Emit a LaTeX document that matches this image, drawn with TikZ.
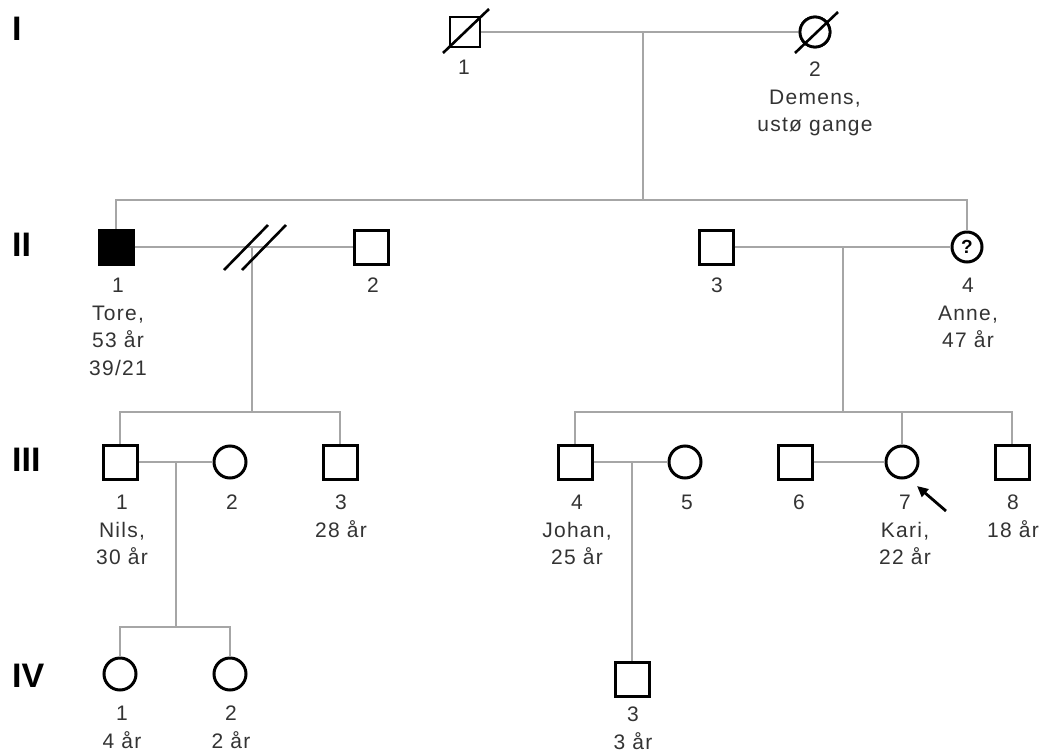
\documentclass[tikz,border=0pt]{standalone}
\usepackage{fontspec}
\setmainfont{Liberation Sans}
\newfontfamily\lblfont[LetterSpace=6]{Liberation Sans}
\usetikzlibrary{arrows.meta}
\begin{document}
\begin{tikzpicture}[x=1pt,y=-1pt,
  male/.style={draw=black, line width=3pt, minimum size=34pt, inner sep=0pt, shape=rectangle, fill=white},
  maleI/.style={male, minimum size=30pt, line width=2.8pt},
  female/.style={draw=black, line width=3pt, minimum size=32pt, inner sep=0pt, shape=circle, fill=white},
  femaleI/.style={female, minimum size=30pt, line width=2.8pt},
  affected/.style={fill=black},
  lbl/.style={font=\lblfont\fontsize{21}{27.5}\selectfont, text=black!80, align=center, anchor=north, inner sep=0pt},
  gen/.style={font=\fontsize{34}{34}\selectfont\bfseries, anchor=west, inner sep=0pt},
  rel/.style={draw=black!35, line width=2pt},
  dead/.style={draw=black, line width=2.6pt},
  proband/.style={draw=black, line width=2.8pt, -{Triangle[length=11pt,width=10pt]}}]
\useasboundingbox (0,0) rectangle (1039,755);

% generation labels
\node[gen] (gI) at (12,29) {I};
\node[gen] (gII) at (12,245) {II};
\node[gen] (gIII) at (12,460) {III};
\node[gen] (gIV) at (12,676) {IV};

% individuals
\node[maleI] (I1) at (465,32) {};
\node[femaleI] (I2) at (815,32) {};

\node[male, affected] (II1) at (116,247) {};
\node[male] (II2) at (371,247) {};
\node[male] (II3) at (716,247) {};
\node[female, minimum size=30pt] (II4) at (967,247) {\fontsize{19}{19}\selectfont\bfseries ?};

\node[male] (III1) at (120,462) {};
\node[female] (III2) at (230,462) {};
\node[male] (III3) at (340,462) {};
\node[male] (III4) at (575,462) {};
\node[female] (III5) at (685,462) {};
\node[male] (III6) at (795,462) {};
\node[female] (III7) at (902,462) {};
\node[male] (III8) at (1012,462) {};

\node[female] (IV1) at (120,674) {};
\node[female] (IV2) at (230,674) {};
\node[male] (IV3) at (632,679) {};

% relationship lines
\coordinate (mI) at (643,32);
\coordinate (sII) at (643,200);
\draw[rel] (I1) -- (I2);
\draw[rel] (mI) -- (sII);
\draw[rel] (II1.north) |- (sII) -| (II4.north);

\coordinate (mII) at (252,247);
\coordinate (sIIIa) at (252,412);
\draw[rel] (II1) -- (II2);
\draw[rel] (mII) -- (sIIIa);
\draw[rel] (III1.north) |- (sIIIa) -| (III3.north);

\coordinate (mIIb) at (843,247);
\coordinate (sIIIb) at (843,412);
\draw[rel] (II3) -- (II4);
\draw[rel] (mIIb) -- (sIIIb);
\draw[rel] (III4.north) |- (sIIIb) -| (III8.north);
\draw[rel] (III7.north) -- (III7.north |- sIIIb);

\coordinate (mIIIa) at (176,462);
\coordinate (sIVa) at (176,627);
\draw[rel] (III1) -- (III2);
\draw[rel] (mIIIa) -- (sIVa);
\draw[rel] (IV1.north) |- (sIVa) -| (IV2.north);

\coordinate (mIIIb) at (632,462);
\draw[rel] (III4) -- (III5);
\draw[rel] (mIIIb) -- (IV3.north);

\draw[rel] (III6) -- (III7);

% redraw symbols on top
\node[maleI] at (I1) {};
\node[femaleI] at (I2) {};

% deceased slashes
\draw[dead] ([shift={(-22,21)}]I1.center) -- ([shift={(24,-23)}]I1.center);
\draw[dead] ([shift={(-20,21)}]I2.center) -- ([shift={(23,-20)}]I2.center);

% divorce slashes
\coordinate (d1a) at (224,270);
\coordinate (d1b) at (268,225);
\coordinate (d2a) at (242,270);
\coordinate (d2b) at (286,225);
\draw[dead] (d1a) -- (d1b);
\draw[dead] (d2a) -- (d2b);

% proband arrow
\coordinate (pa) at (946,511);
\coordinate (pb) at (917,486);
\draw[proband] (pa) -- (pb);

% labels
\node[lbl] (lI1) at (464,60) {1};
\node[lbl] (lI2) at (815,62) {2\\Demens,\\ustø gange};
\node[lbl] (lII1) at (118,278) {1\\Tore,\\53 år\\39/21};
\node[lbl] (lII2) at (373,278) {2};
\node[lbl] (lII3) at (717,278) {3};
\node[lbl] (lII4) at (968,278) {4\\Anne,\\47 år};
\node[lbl] (lIII1) at (122,495) {1\\Nils,\\30 år};
\node[lbl] (lIII2) at (232,495) {2};
\node[lbl] (lIII3) at (341,495) {3\\28 år};
\node[lbl] (lIII4) at (577,495) {4\\Johan,\\25 år};
\node[lbl] (lIII5) at (687,495) {5};
\node[lbl] (lIII6) at (799,495) {6};
\node[lbl] (lIII7) at (905,495) {7\\Kari,\\22 år};
\node[lbl] (lIII8) at (1013,495) {8\\18 år};
\node[lbl] (lIV1) at (122,706) {1\\4 år};
\node[lbl] (lIV2) at (231,706) {2\\2 år};
\node[lbl] (lIV3) at (633,707) {3\\3 år};
\end{tikzpicture}
\end{document}
